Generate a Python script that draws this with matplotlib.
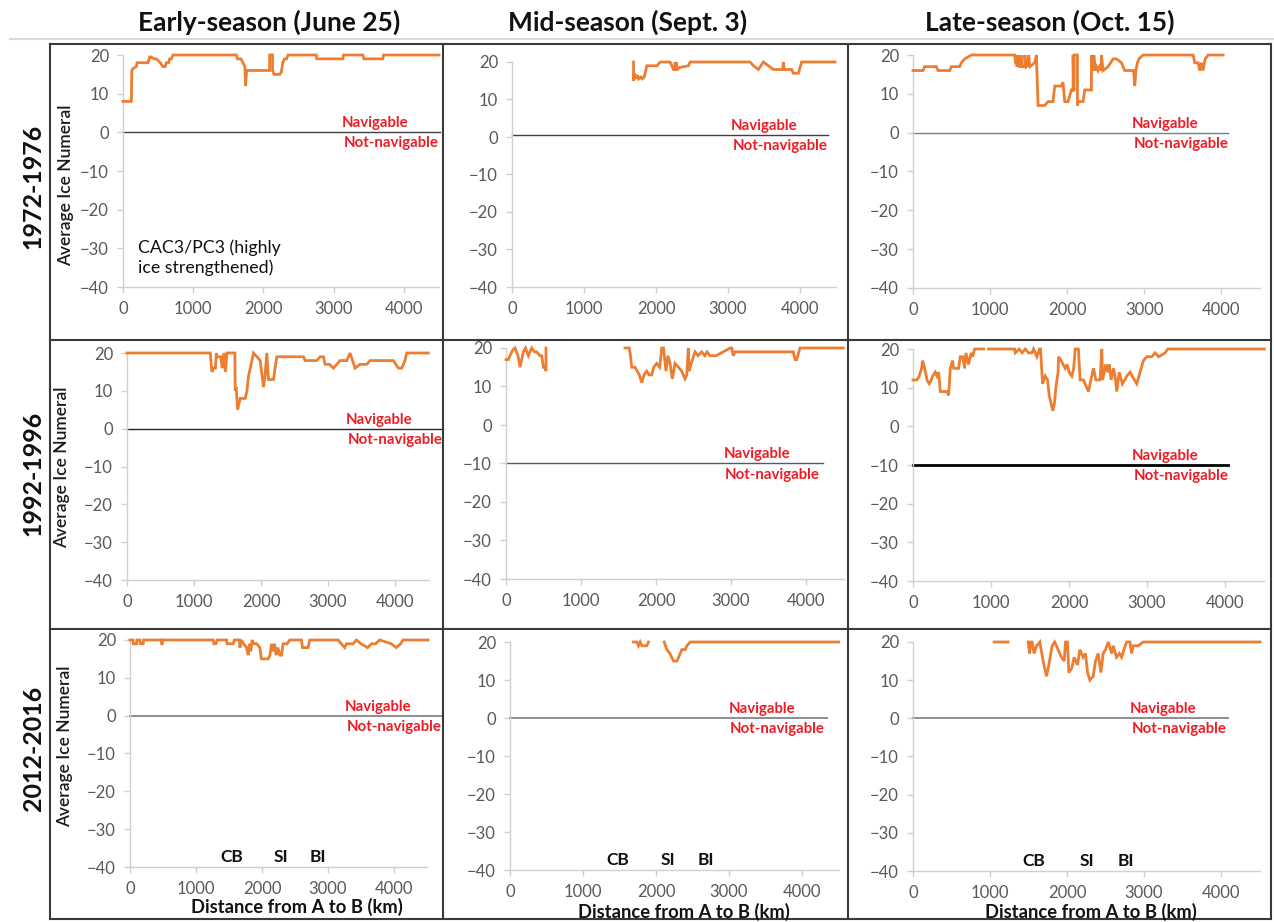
import numpy as np
import matplotlib
matplotlib.use("Agg")
import matplotlib.pyplot as plt
from matplotlib.lines import Line2D

plt.rcParams['font.family'] = ['Lato', 'DejaVu Sans']

nan = np.nan

# ---------------- data ----------------
seasons = ['Early-season (June 25)', 'Mid-season (Sept. 3)', 'Late-season (Oct. 15)']
periods = ['1972-1976', '1992-1996', '2012-2016']
x_ticks = [0, 1000, 2000, 3000, 4000]
y_ticks = [-40, -30, -20, -10, 0, 10, 20]

# 1972-1976, early season
km_early_70s = [0, 119, 125, 142, 190, 200, 285, 356, 380, 403,
                440, 474, 530, 569, 600, 617, 650, 664, 688, 712,
                1613, 1630, 1680, 1708, 1735, 1746, 1760, 1780, 2088, 2088,
                2130, 2130, 2150, 2180, 2230, 2254, 2275, 2300, 2330, 2350,
                2752, 2760, 3131, 3140, 3416, 3430, 3700, 3710, 4500]
ice_early_70s = [8, 8, 16, 16.5, 17, 18, 18, 18, 19.5, 19.5,
                 19, 19, 18, 17, 17, 18, 18, 19, 19, 20,
                 20, 19, 19, 18, 17, 12, 16, 16, 16, 20,
                 20, 16, 15, 15, 15, 15.5, 18, 19, 19, 20,
                 20, 19, 19, 20, 20, 19, 19, 20, 20]

# 1972-1976, mid season
km_mid_70s = [1688, 1688, 1700, 1720, 1740, 1760, 1790, 1810, 1836, 1873,
              2012, 2058, 2196, 2243, 2260, 2265, 2275, 2280, 2289, 2300,
              2320, 2451, 2474, 3306, 3353, 3422, 3491, 3561, 3630, 3746,
              3760, 3769, 3780, 3792, 3884, 3907, 3977, 4023, 4486]
ice_mid_70s = [20, 15, 17, 15.5, 16.5, 15.5, 16, 15.5, 16, 19,
               19, 20, 20, 18, 18, 20, 18, 20, 18, 18,
               18.5, 19, 20, 20, 19, 18, 20, 19, 18, 18,
               18, 20, 18, 18, 18, 17, 17, 20, 20]

# 1972-1976, late season
km_late_70s = [0, 130, 151, 303, 324, 476, 497, 605, 627, 670,
               757, 1319, 1330, 1345, 1350, 1355, 1380, 1400, 1400, 1410,
               1440, 1450, 1450, 1470, 1490, 1500, 1500, 1515, 1578, 1600,
               1622, 1708, 1751, 1816, 1838, 1924, 1945, 1968, 2011, 2054,
               2076, 2076, 2085, 2089, 2089, 2132, 2132, 2141, 2205, 2227,
               2292, 2314, 2314, 2330, 2330, 2345, 2345, 2360, 2380, 2400,
               2420, 2443, 2443, 2465, 2530, 2595, 2640, 2703, 2746, 2860,
               2876, 2890, 2910, 2930, 2984, 3632, 3654, 3697, 3719, 3740,
               3760, 3790, 3827, 4022]
ice_late_70s = [16, 16, 17, 17, 16, 16, 17, 17, 18, 19,
                20, 20, 18, 18, 17, 20, 17, 17, 20, 17,
                17, 17, 20, 17, 17.5, 19, 20, 17, 18, 20,
                7, 7, 8, 8, 12, 12, 13, 8, 8, 11,
                11, 20, 11, 11, 20, 20, 7, 8, 8, 11,
                11, 11, 20, 16, 20, 16, 20, 16, 17, 16,
                17, 16, 20, 16, 17, 19, 19, 18, 16, 16,
                12, 16, 18, 19, 20, 20, 18, 18, 16, 18,
                16, 19, 20, 20]

# 1992-1996, early season
km_early_90s = [0, 1242, 1267, 1290, 1320, 1333, 1345, 1400, 1420, 1445,
                1470, 1491, 1510, 1540, 1610, 1615, 1630, 1650, 1690, 1764,
                1790, 1814, 1840, 1888, 1940, 1988, 2037, 2060, 2087, 2110,
                2137, 2186, 2210, 2236, 2634, 2658, 2832, 2882, 2932, 2957,
                3020, 3080, 3130, 3180, 3280, 3329, 3404, 3478, 3578, 3627,
                3975, 4050, 4100, 4149, 4174, 4497]
ice_early_90s = [20, 20, 15, 16, 16, 20, 19, 19, 16, 20,
                 15, 20, 20, 20, 20, 10, 11, 5, 8, 8,
                 10, 14, 16, 20, 19, 18, 11, 14, 20, 13,
                 13, 13, 16, 19, 19, 18, 18, 19, 19, 17,
                 17, 16, 17, 18, 18, 20, 16, 17, 17, 18,
                 18, 16, 16, 18, 20, 20]

# 1992-1996, mid season
km_mid_90s = [0, 30, 53, 90, 120, 160, 187, 231, 260, 298,
              342, 380, 409, 453, 476, 498, 520, 533, 533, nan,
              1587, 1644, 1660, 1676, 1720, 1750, 1778, 1809, 1840, 1876,
              1911, 1942, 1970, 2009, 2050, 2076, 2100, 2133, 2160, 2187,
              2218, 2253, 2300, 2342, 2387, 2410, 2431, 2440, 2470, 2520,
              2560, 2609, 2650, 2680, 2720, 2800, 2898, 2987, 3010, 3031,
              3053, 3831, 3853, 3876, 3920, 4498]
ice_mid_90s = [17, 17, 18, 19.5, 20, 18, 15, 19, 20, 18,
               20, 19, 19, 18, 18, 15, 15, 14, 20, nan,
               20, 20, 18, 15, 15, 14, 13, 11, 13, 14,
               13, 13, 15, 16, 15, 20, 20, 14, 18, 16,
               12, 16, 15, 14, 12, 13, 20, 14, 16, 19,
               18, 19, 18, 19, 18, 18, 19, 20, 20, 18,
               19, 19, 17, 17, 20, 20]

# 1992-1996, late season
km_late_90s = [0, 51, 80, 110, 124, 150, 179, 209, 235, 252,
               286, 308, 329, 350, 435, 457, 478, 508, 521, 585,
               606, 636, 662, 679, 713, 747, 765, 790, 905, nan,
               969, 1302, 1311, 1360, 1400, 1440, 1480, 1524, 1545, 1588,
               1622, 1635, 1661, 1695, 1725, 1746, 1793, 1814, 1831, 1860,
               1866, 1900, 1951, 1975, 2002, 2036, 2060, 2079, 2120, 2143,
               2186, 2228, 2250, 2280, 2314, 2344, 2399, 2420, 2430, 2472,
               2498, 2515, 2540, 2570, 2590, 2613, 2643, 2685, 2741, 2783,
               2839, 2869, 2911, 2954, 2997, 3060, 3104, 3150, 3232, 3266,
               4504]
ice_late_90s = [12, 12, 13, 15, 17, 15, 12, 11, 12, 13,
                14, 13, 14, 9, 9, 8, 15, 17, 15, 15,
                18, 18, 15, 19, 16, 19, 18, 20, 20, nan,
                20, 20, 19, 20, 19, 20, 19, 19, 20, 18,
                20, 20, 11, 13, 12, 8, 4, 6, 10, 14,
                18, 17, 15, 16, 14, 13, 15, 20, 20, 12,
                12, 10, 9, 12, 15, 12, 12, 20, 12, 16,
                14, 16, 12, 15, 13, 9, 14, 11, 13, 14,
                12, 11, 14, 17, 18, 18, 19, 18, 19, 20,
                20]

# 2012-2016, early season
km_early_10s = [0, 45, 50, 100, 105, 150, 155, 200, 205, 475,
                480, 490, 495, 1261, 1270, 1300, 1320, 1463, 1470, 1564,
                1580, 1660, 1665, 1690, 1720, 1765, 1791, 1810, 1830, 1850,
                1880, 1920, 1967, 1992, 2093, 2120, 2144, 2165, 2190, 2215,
                2240, 2270, 2295, 2320, 2380, 2421, 2598, 2613, 2698, 2724,
                3153, 3200, 3253, 3280, 3380, 3430, 3500, 3600, 3657, 3720,
                3783, 3960, 4035, 4100, 4136, 4514]
ice_early_10s = [20, 20, 19, 19, 20, 20, 19, 19, 20, 20,
                 19, 19, 20, 20, 19, 19, 20, 20, 19, 19,
                 20, 20, 18, 20, 19, 18, 16, 19, 17, 20,
                 19, 19, 18, 15, 15, 16, 19, 17, 19, 16,
                 18, 16, 16, 19, 19, 20, 20, 18, 18, 20,
                 20, 19, 18, 19, 19, 20, 19, 18, 19, 19,
                 20, 19, 18, 19, 20, 20]

# 2012-2016, mid season
km_mid_10s = [1691, 1737, 1760, 1783, 1806, 1874, 1897, nan, 2112, 2149,
              2190, 2240, 2286, 2310, 2354, 2400, 2423, 2469, 4503]
ice_mid_10s = [20, 20, 19, 20, 19, 19, 20, nan, 20, 18,
               17, 15, 15, 16, 18, 18, 19, 20, 20]

# 2012-2016, late season
km_late_10s = [1053, 1235, nan, 1495, 1515, 1530, 1547, 1573, 1605, 1647,
               1690, 1733, 1764, 1807, 1840, 1885, 1928, 1963, 1981, 2005,
               2024, 2060, 2093, 2136, 2167, 2210, 2240, 2267, 2297, 2340,
               2370, 2405, 2440, 2470, 2500, 2535, 2579, 2600, 2643, 2680,
               2709, 2740, 2774, 2817, 2838, 2860, 2925, 2990, 4507]
ice_late_10s = [20, 20, nan, 20, 17, 20, 20, 17, 19, 20,
                15, 11, 14, 19, 20, 18, 16, 15, 20, 20,
                12, 13, 16, 14, 18, 16, 17, 12, 10, 11,
                15, 17, 12, 17, 18, 20, 17, 19, 16, 17,
                16, 18, 20, 20, 17, 19, 19, 20, 20]

# navigability threshold (ice numeral) and the extent of its line, per panel
threshold = [[0, 0.5, 0], [0, -10, -10], [0, 0, 0]]
threshold_end_km = [[4510, 4390, 4080], [4716, 4230, 4040], [4740, 4340, 4090]]
# where the Navigable / Not-navigable captions start (km)
caption_km = [[3117, 3040, 2840], [3270, 2900, 2810], [3260, 2990, 2820]]

# route landmarks along the bottom row (km)
landmark_names = ['CB', 'SI', 'BI']
landmark_km = [[1545, 2290, 2850], [1480, 2160, 2690], [1570, 2260, 2770]]

series = [
    [(km_early_70s, ice_early_70s), (km_mid_70s, ice_mid_70s), (km_late_70s, ice_late_70s)],
    [(km_early_90s, ice_early_90s), (km_mid_90s, ice_mid_90s), (km_late_90s, ice_late_90s)],
    [(km_early_10s, ice_early_10s), (km_mid_10s, ice_mid_10s), (km_late_10s, ice_late_10s)],
]

# ---------------- layout (pixels) ----------------
W, H = 1274, 922
# (x of 0 km, x of 4500 km, y of +20, y of -40)
panel_px = [
    [(123, 439, 55, 287), (512, 836, 62, 287), (913, 1260, 55, 288)],
    [(127, 428.5, 353, 580), (506, 843.5, 348, 579), (913, 1264, 349, 581)],
    [(130, 427, 640, 867), (510, 838.5, 642, 870), (913, 1259.5, 642, 871)],
]
title_px = [(269, 22), (628, 22), (1050, 22)]
period_px = [(33, 186), (33, 473), (33, 748)]
ylabel_px = [(66, 185), (62, 467), (65, 746)]
xlabel_px = [(297, 907), (684, 912), (1091, 912)]
col_edges = [50, 443, 848, 1271]
row_edges = [44, 340, 629, 919]

ORANGE = '#ED7D31'
RED = '#EE1C25'
AXIS = '#D0D0D0'
TICKTXT = '#595959'
threshold_style = [
    [('#3F3F3F', 1.0), ('#3F3F3F', 1.0), ('#7F7F7F', 1.0)],
    [('#262626', 1.0), ('#595959', 1.0), ('#000000', 2.0)],
    [('#8C8C8C', 1.4), ('#8C8C8C', 1.4), ('#8C8C8C', 1.4)],
]

fig = plt.figure(figsize=(W / 100, H / 100), dpi=100)
fig.patch.set_facecolor('white')


def fx(px):
    return px / W


def fy(py):
    return 1 - py / H


# light rule under the column headings
fig.add_artist(Line2D([fx(10), fx(1274)], [fy(39), fy(39)], color='#D9D9D9', lw=1.5))

# grid of panel frames
for xe in col_edges:
    fig.add_artist(Line2D([fx(xe), fx(xe)], [fy(row_edges[0]), fy(row_edges[-1])],
                          color='#3A3A3A', lw=1.5))
for ye in row_edges:
    fig.add_artist(Line2D([fx(col_edges[0]), fx(col_edges[-1])], [fy(ye), fy(ye)],
                          color='#3A3A3A', lw=1.5))

for c, name in enumerate(seasons):
    fig.text(fx(title_px[c][0]), fy(title_px[c][1]), name, ha='center', va='center',
             fontsize=19, fontweight='bold', color='#111111')

for r, name in enumerate(periods):
    fig.text(fx(period_px[r][0]), fy(period_px[r][1]), name, ha='center', va='center',
             rotation=90, fontsize=18, fontweight='bold', color='#111111')
    fig.text(fx(ylabel_px[r][0]), fy(ylabel_px[r][1]), 'Average Ice Numeral',
             ha='center', va='center', rotation=90, fontsize=12.5,
             fontweight='semibold', color='#1A1A1A')

for c in range(3):
    fig.text(fx(xlabel_px[c][0]), fy(xlabel_px[c][1]), 'Distance from A to B (km)',
             ha='center', va='center', fontsize=13.2, fontweight='bold', color='#111111')

for r in range(3):
    for c in range(3):
        x0, x1, y0, y1 = panel_px[r][c]
        ax = fig.add_axes([fx(x0), fy(y1), (x1 - x0) / W, (y1 - y0) / H])
        ax.set_xlim(0, 4500)
        ax.set_ylim(-40, 20)
        ax.set_facecolor('none')
        for side in ('top', 'right'):
            ax.spines[side].set_visible(False)
        for side in ('left', 'bottom'):
            ax.spines[side].set_color(AXIS)
            ax.spines[side].set_linewidth(1.0)
        ax.set_xticks(x_ticks)
        ax.set_yticks(y_ticks)
        ax.tick_params(axis='both', colors=AXIS, labelcolor=TICKTXT, labelsize=12,
                       length=4, width=1, pad=6)

        color, lw = threshold_style[r][c]
        thr = threshold[r][c]
        ax.plot([0, threshold_end_km[r][c]], [thr, thr], color=color, lw=lw,
                clip_on=False, zorder=2)

        km, ice = series[r][c]
        ax.plot(km, ice, color=ORANGE, lw=2.0, clip_on=False, zorder=3,
                solid_joinstyle='miter')

        ax.annotate('Navigable', xy=(caption_km[r][c], thr), xytext=(0, 6.5),
                    textcoords='offset points', ha='left', va='center',
                    fontsize=10.8, fontweight='bold', color=RED, annotation_clip=False)
        ax.annotate('Not-navigable', xy=(caption_km[r][c], thr), xytext=(1, -8),
                    textcoords='offset points', ha='left', va='center',
                    fontsize=10.8, fontweight='bold', color=RED, annotation_clip=False)

        if r == 0 and c == 0:
            ax.text(213, -32.4, 'CAC3/PC3 (highly\nice strengthened)', ha='left',
                    va='center', fontsize=12.8, linespacing=1.3, color='#111111')
        if r == 2:
            for name, pos in zip(landmark_names, landmark_km[c]):
                ax.text(pos, -37.3, name, ha='center', va='center', fontsize=12.5,
                        fontweight='bold', color='#111111')

fig.savefig('out.png', dpi=100, facecolor='white')
